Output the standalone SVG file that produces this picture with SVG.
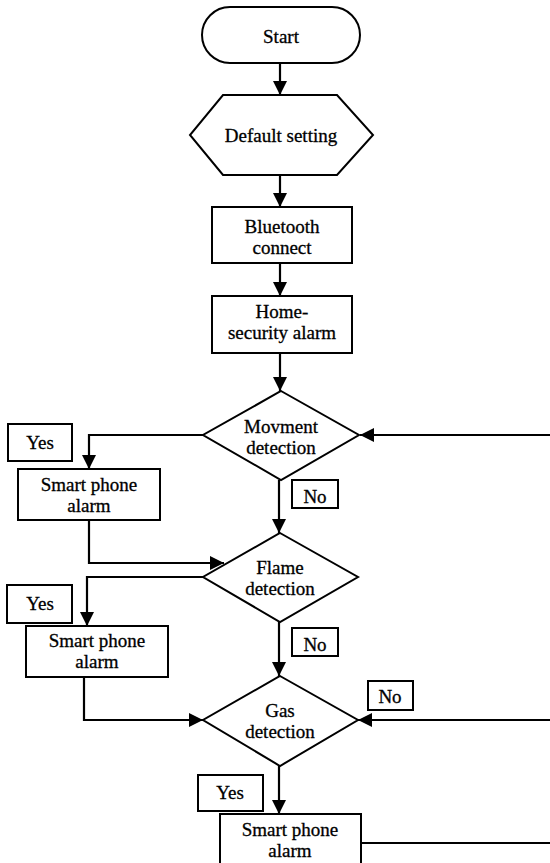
<svg xmlns="http://www.w3.org/2000/svg" width="550" height="863" viewBox="0 0 550 863">
<style>
.s{fill:#fff;stroke:#000;stroke-width:2}
.c{fill:none;stroke:#000;stroke-width:2.2}
text{stroke:#000;stroke-width:0.3}
</style>
<defs>
<marker id="a" viewBox="0 0 14 14" refX="14" refY="7" markerWidth="14" markerHeight="14" markerUnits="userSpaceOnUse" orient="auto"><path d="M0,0 L14,7 L0,14 z" fill="#000"/></marker>
</defs>
<rect width="550" height="863" fill="#fff"/>
<g id="connectors">
<path class="c" d="M280,63 V95" marker-end="url(#a)"/>
<path class="c" d="M280,175 V207" marker-end="url(#a)"/>
<path class="c" d="M280,263 V296" marker-end="url(#a)"/>
<path class="c" d="M280,353 V391" marker-end="url(#a)"/>
<path class="c" d="M203,435 H89 V469" marker-end="url(#a)"/>
<path class="c" d="M89,520 V563 H224" marker-end="url(#a)"/>
<path class="c" d="M279,480 V533" marker-end="url(#a)"/>
<path class="c" d="M550,435 H360" marker-end="url(#a)"/>
<path class="c" d="M203,577 H87 V626" marker-end="url(#a)"/>
<path class="c" d="M84,677 V720 H203" marker-end="url(#a)"/>
<path class="c" d="M279,622 V676" marker-end="url(#a)"/>
<path class="c" d="M550,720 H358" marker-end="url(#a)"/>
<path class="c" d="M279,766 V814" marker-end="url(#a)"/>
<path class="c" d="M361,843 H550"/>
</g>
<g style="font-family:'Liberation Serif',serif;font-size:19px;text-anchor:middle" fill="#000">
<g id="start"><rect class="s" x="202" y="7" width="158" height="56" rx="28"/><text x="281" y="43">Start</text></g>
<g id="default"><polygon class="s" points="223,95 337,95 373,135 337,175 223,175 190,135"/><text x="281" y="142">Default setting</text></g>
<g id="bluetooth"><rect class="s" x="212" y="207" width="140" height="56"/><text x="282" y="233">Bluetooth</text><text x="282" y="254">connect</text></g>
<g id="home"><rect class="s" x="212" y="296" width="140" height="57"/><text x="282" y="318">Home-</text><text x="282" y="339">security alarm</text></g>
<g id="movement"><polygon class="s" points="281,391 359,435 281,480 203,435"/><text x="281" y="433">Movment</text><text x="281" y="454">detection</text></g>
<g id="yes1"><rect class="s" x="8" y="424" width="64" height="37"/><text x="40" y="449">Yes</text></g>
<g id="alarm1"><rect class="s" x="18" y="469" width="142" height="51"/><text x="89" y="491">Smart phone</text><text x="89" y="512">alarm</text></g>
<g id="no1"><rect class="s" x="292" y="480" width="46" height="28"/><text x="315" y="503">No</text></g>
<g id="flame"><polygon class="s" points="280,533 358,577 280,622 203,577"/><text x="280" y="574">Flame</text><text x="280" y="595">detection</text></g>
<g id="yes2"><rect class="s" x="7" y="585" width="65" height="38"/><text x="40" y="610">Yes</text></g>
<g id="alarm2"><rect class="s" x="26" y="626" width="142" height="51"/><text x="97" y="647">Smart phone</text><text x="97" y="668">alarm</text></g>
<g id="no2"><rect class="s" x="292" y="628" width="46" height="28"/><text x="315" y="651">No</text></g>
<g id="gas"><polygon class="s" points="280,676 358,720 280,766 203,720"/><text x="280" y="717">Gas</text><text x="280" y="738">detection</text></g>
<g id="no3"><rect class="s" x="368" y="681" width="45" height="29"/><text x="390" y="703">No</text></g>
<g id="yes3"><rect class="s" x="198" y="775" width="65" height="36"/><text x="230" y="799">Yes</text></g>
<g id="alarm3"><rect class="s" x="220" y="814" width="141" height="52"/><text x="290" y="836">Smart phone</text><text x="290" y="857">alarm</text></g>
</g>
</svg>
